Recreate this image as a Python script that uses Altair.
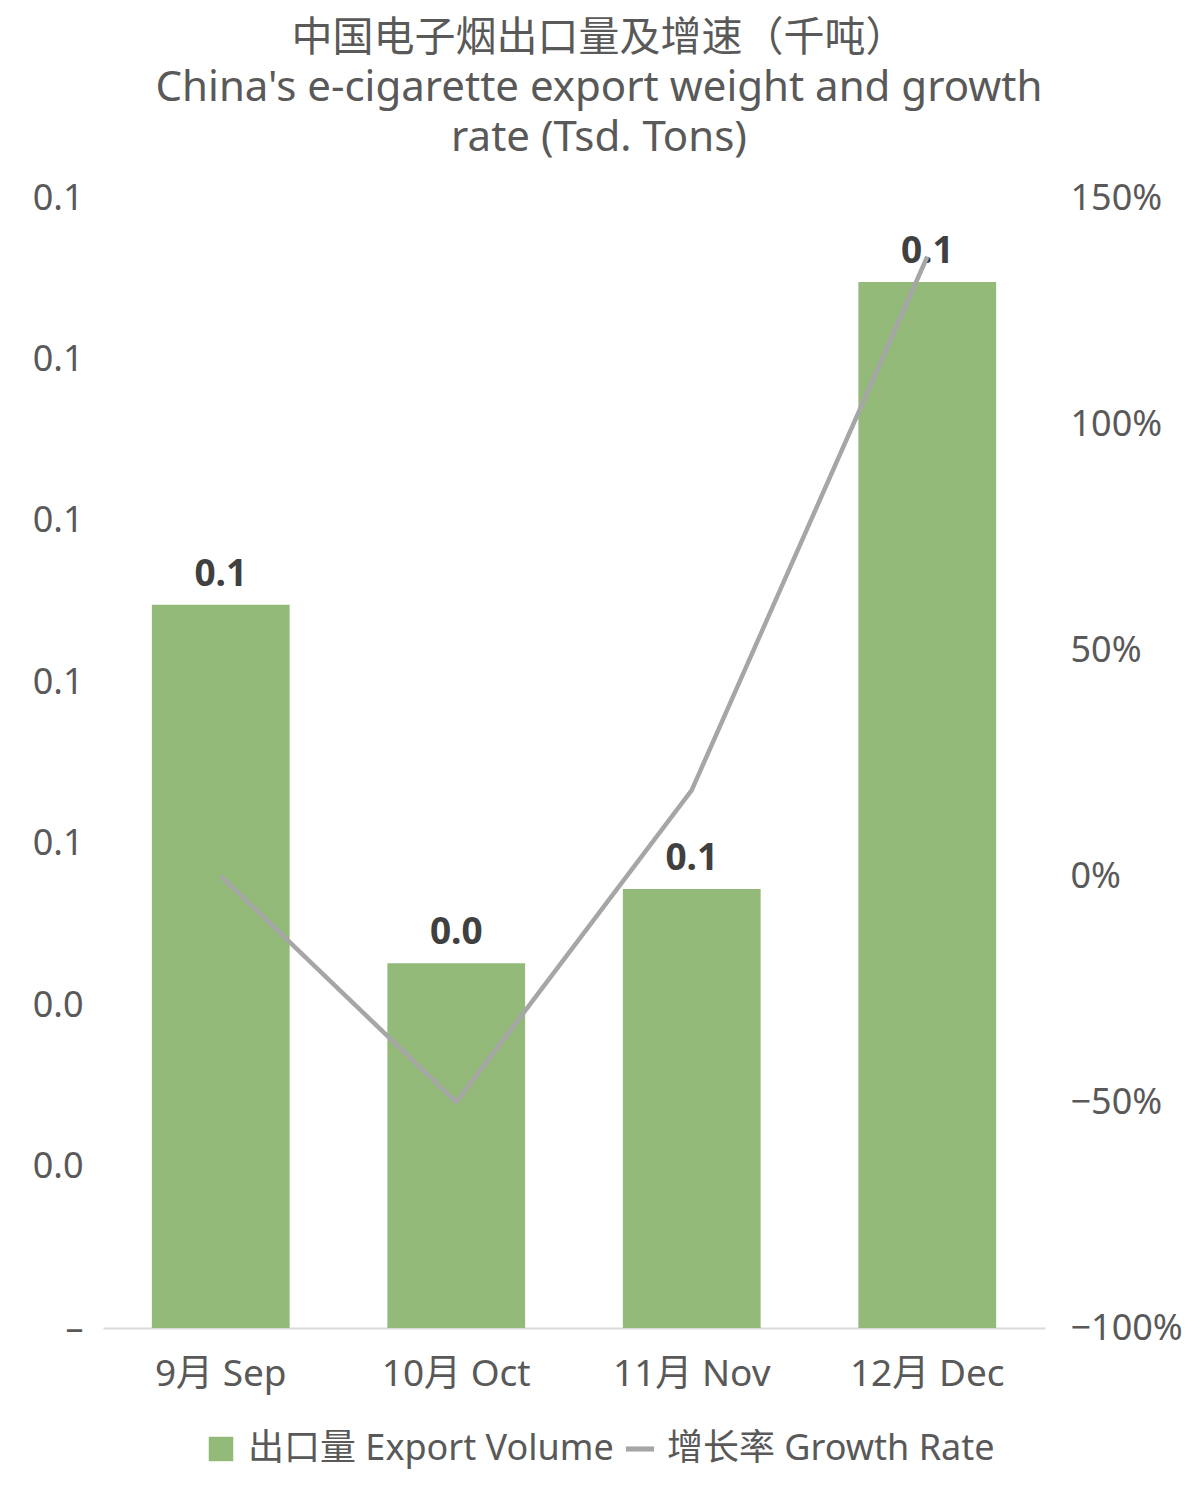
import altair as alt
import pandas as pd

# ---- data ----
months = ["9月 Sep", "10月 Oct", "11月 Nov", "12月 Dec"]
export_volume = [0.0896, 0.0452, 0.0544, 0.1296]   # thousand tons
growth_rate = [0.0, -0.50, 0.19, 1.37]              # fraction
series_names = ["出口量 Export Volume", "增长率 Growth Rate"]
left_ticks = [0, 0.02, 0.04, 0.06, 0.08, 0.10, 0.12, 0.14]
right_ticks = [-1.0, -0.5, 0.0, 0.5, 1.0, 1.5]

df = pd.DataFrame({"month": months, "volume": export_volume, "growth": growth_rate})
legend_df = pd.DataFrame({"series": series_names})

GREEN = "#93BA78"
GRAY = "#A6A6A6"
TEXT = "#595959"
FONT = "'Noto Sans', 'Noto Sans CJK SC'"

x_enc = alt.X(
    "month:N",
    sort=months,
    scale=alt.Scale(paddingInner=0.415, paddingOuter=0.2075),
    axis=alt.Axis(
        title=None, labelAngle=0, labelFontSize=37, labelColor=TEXT, labelFont=FONT,
        labelPadding=28, ticks=False, domainColor="#D9D9D9", domainWidth=2, grid=False,
    ),
)

y_left = alt.Y(
    "volume:Q",
    scale=alt.Scale(domain=[0, 0.14], nice=False),
    axis=alt.Axis(
        title=None, values=left_ticks, grid=False, domain=False, ticks=False,
        labelExpr="datum.value == 0 ? '–' : format(datum.value, '.1f')",
        labelFontSize=36, labelColor=TEXT, labelFont=FONT, labelPadding=20,
    ),
)

bars = alt.Chart(df).mark_bar(color=GREEN).encode(x=x_enc, y=y_left)

labels = alt.Chart(df).mark_text(
    dy=-30, fontSize=37, fontWeight="bold", color="#404040", font="'Noto Sans'"
).encode(x=x_enc, y=y_left, text=alt.Text("volume:Q", format=".1f"))

left = alt.layer(bars, labels)

line = alt.Chart(df).mark_line(color=GRAY, strokeWidth=4.5).encode(
    x=x_enc,
    y=alt.Y(
        "growth:Q",
        scale=alt.Scale(domain=[-1, 1.5], nice=False),
        axis=alt.Axis(
            title=None, orient="right", values=right_ticks, format=".0%", grid=False,
            domain=False, ticks=False, labelFontSize=36, labelColor=TEXT, labelFont=FONT,
            labelPadding=25, labelAlign="left",
        ),
    ),
)

leg = alt.Legend(
    orient="none", legendX=100, legendY=1233, direction="horizontal", title=None,
    labelFontSize=36, labelFont=FONT, labelColor=TEXT, labelLimit=600,
    symbolSize=600, labelOffset=9, columnPadding=8, symbolStrokeWidth=0,
    symbolOpacity=1,
)

legend_layer = alt.Chart(legend_df).mark_point(filled=True).encode(
    x=alt.value(0),
    y=alt.value(0),
    color=alt.Color(
        "series:N", sort=series_names,
        scale=alt.Scale(domain=series_names, range=[GREEN, GRAY]),
        legend=leg,
    ),
    shape=alt.Shape(
        "series:N", sort=series_names,
        scale=alt.Scale(domain=series_names, range=["square", "M-1.15,-0.21H1.15V0.21H-1.15Z"]),
        legend=leg,
    ),
).transform_filter("false")

chart = alt.layer(left, line, legend_layer).resolve_scale(y="independent").properties(
    width=942,
    height=1130,
    background="white",
    autosize=alt.AutoSizeParams(type="none"),
    padding={"left": 95, "top": 190, "right": 147, "bottom": 158},
    title=alt.TitleParams(
        text="中国电子烟出口量及增速（千吨）",
        subtitle=["China's e-cigarette export weight and growth", "rate (Tsd. Tons)"],
        font="'Noto Sans CJK SC'", fontSize=41, fontWeight="normal", color=TEXT,
        subtitleFont="'Noto Sans'", subtitleFontSize=42, subtitleColor=TEXT,
        subtitleLineHeight=50, subtitlePadding=8,
        anchor="middle", frame="group", dx=25, offset=20,
    ),
).configure_view(strokeWidth=0, stroke=None)

chart.save("out.html", embed_options={"renderer": "svg", "actions": False})
